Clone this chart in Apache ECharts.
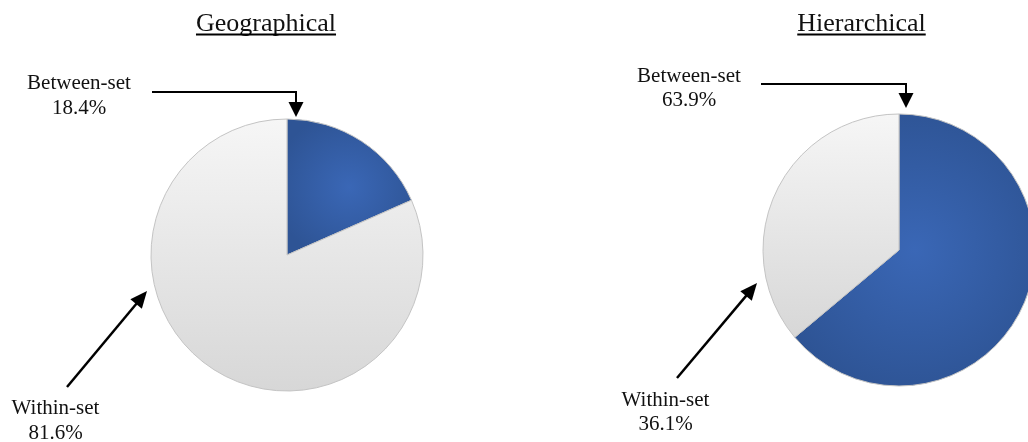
<!DOCTYPE html>
<html><head><meta charset="utf-8">
<script src="https://cdn.jsdelivr.net/npm/echarts@6/dist/echarts.min.js"></script>
<style>html,body{margin:0;padding:0;background:#fff}#c{width:1028px;height:442px}</style>
</head><body><div id="c"></div>
<script>
const categories = ['Between-set', 'Within-set'];
const geographical = [18.4, 81.6];
const hierarchical = [63.9, 36.1];
const titles = ['Geographical', 'Hierarchical'];

const FONT = '"Liberation Serif", "Times New Roman", serif';
const chart = echarts.init(document.getElementById('c'), null, {renderer: 'canvas'});

const blueGrad = {type: 'radial', x: 0.5, y: 0.5, r: 0.6,
  colorStops: [{offset: 0, color: '#3a67b6'}, {offset: 1, color: '#2e5495'}]};
const grayGrad = {type: 'linear', x: 0, y: 0, x2: 0, y2: 1,
  colorStops: [{offset: 0, color: '#f6f6f6'}, {offset: 1, color: '#d7d7d7'}]};
const sliceColors = [blueGrad, grayGrad];

function pieSeries(values, center) {
  return {
    type: 'pie', center: center, radius: 136, startAngle: 90, clockwise: true,
    animation: false, silent: true,
    label: {show: false}, labelLine: {show: false},
    itemStyle: {borderColor: '#c4c4c4', borderWidth: 1},
    data: categories.map((c, i) => ({name: c, value: values[i], itemStyle: {color: sliceColors[i]}}))
  };
}

const ctx = document.createElement('canvas').getContext('2d');
function textW(t, size) { ctx.font = size + 'px ' + FONT; return ctx.measureText(t).width; }

function arrowHead(tip, from, len, half) {
  const dx = tip[0] - from[0], dy = tip[1] - from[1];
  const L = Math.hypot(dx, dy), ux = dx / L, uy = dy / L;
  const bx = tip[0] - ux * len, by = tip[1] - uy * len;
  return {type: 'polygon', shape: {points: [tip, [bx - uy * half, by + ux * half], [bx + uy * half, by - ux * half]]},
    style: {fill: '#000'}};
}
function elbowArrow(x0, y, x1, tipY) {
  return [
    {type: 'polyline', shape: {points: [[x0, y], [x1, y], [x1, tipY - 12]]}, style: {stroke: '#000', lineWidth: 2, fill: null}},
    arrowHead([x1, tipY], [x1, y], 15, 7.5)
  ];
}
function diagArrow(from, tip) {
  const dx = tip[0] - from[0], dy = tip[1] - from[1], L = Math.hypot(dx, dy);
  const end = [tip[0] - dx / L * 12, tip[1] - dy / L * 12];
  return [
    {type: 'line', shape: {x1: from[0], y1: from[1], x2: end[0], y2: end[1]}, style: {stroke: '#000', lineWidth: 2.5}},
    arrowHead(tip, from, 17, 7.5)
  ];
}
function label(text, x, y) {
  return {type: 'text', style: {text: text, x: x, y: y, align: 'center', verticalAlign: 'middle',
    font: '21px ' + FONT, lineHeight: 24.5, fill: '#111'}};
}
function title(text, cx, baseline) {
  const w = textW(text, 26);
  return [
    {type: 'text', style: {text: text, x: cx, y: baseline - 8, align: 'center', verticalAlign: 'middle', font: '26px ' + FONT, fill: '#111'}},
    {type: 'line', shape: {x1: cx - w / 2, y1: baseline + 2.5, x2: cx + w / 2, y2: baseline + 2.5}, style: {stroke: '#000', lineWidth: 2}}
  ];
}
const fmt = (v) => v.toFixed(1) + '%';

const graphics = [].concat(
  title(titles[0], 266, 32),
  title(titles[1], 861.5, 32),
  elbowArrow(152, 92, 296, 117),
  elbowArrow(761, 84, 906, 108),
  diagArrow([67, 387], [147, 291]),
  diagArrow([677, 378], [757, 283]),
  [label(categories[0] + '\n' + fmt(geographical[0]), 79, 96),
   label(categories[1] + '\n' + fmt(geographical[1]), 55.5, 421),
   label(categories[0] + '\n' + fmt(hierarchical[0]), 689, 88.5),
   label(categories[1] + '\n' + fmt(hierarchical[1]), 665.5, 412.5)]
);

chart.setOption({
  backgroundColor: '#fff',
  animation: false,
  series: [pieSeries(geographical, [287, 255]), pieSeries(hierarchical, [899, 250])],
  graphic: graphics
});
</script></body></html>
